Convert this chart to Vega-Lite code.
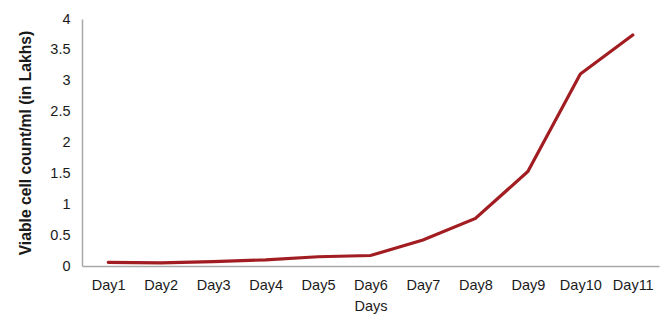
{
  "$schema": "https://vega.github.io/schema/vega-lite/v6.json",
  "width": 577,
  "height": 247,
  "autosize": {"type": "none"},
  "padding": {"left": 82, "top": 19, "right": 8, "bottom": 62},
  "background": "#ffffff",
  "config": {
    "view": {"stroke": null},
    "font": "Liberation Sans",
    "axis": {
      "grid": false,
      "ticks": false,
      "domainColor": "#a8a8a8",
      "domainWidth": 1.5,
      "labelColor": "#1a1a1a",
      "labelFont": "Liberation Sans",
      "titleFont": "Liberation Sans",
      "titleColor": "#1a1a1a"
    }
  },
  "data": {
    "values": [
      {"day": "Day1", "count": 0.06},
      {"day": "Day2", "count": 0.05},
      {"day": "Day3", "count": 0.07},
      {"day": "Day4", "count": 0.1},
      {"day": "Day5", "count": 0.15},
      {"day": "Day6", "count": 0.17},
      {"day": "Day7", "count": 0.42},
      {"day": "Day8", "count": 0.77},
      {"day": "Day9", "count": 1.53},
      {"day": "Day10", "count": 3.11},
      {"day": "Day11", "count": 3.74}
    ]
  },
  "mark": {"type": "line", "color": "#a11d21", "strokeWidth": 3.2, "strokeCap": "round"},
  "encoding": {
    "x": {
      "field": "day",
      "type": "ordinal",
      "sort": null,
      "scale": {"type": "point", "padding": 0.5},
      "axis": {
        "title": "Days",
        "labelAngle": 0,
        "labelFontSize": 14.5,
        "labelPadding": 12,
        "titleFontSize": 14.5,
        "titleFontWeight": "normal",
        "titlePadding": 8
      }
    },
    "y": {
      "field": "count",
      "type": "quantitative",
      "scale": {"domain": [0, 4], "nice": false},
      "axis": {
        "title": "Viable cell count/ml (in Lakhs)",
        "values": [0, 0.5, 1, 1.5, 2, 2.5, 3, 3.5, 4],
        "format": "~g",
        "labelFontSize": 14.5,
        "labelPadding": 12,
        "titleFontSize": 15.7,
        "titleFontWeight": "bold",
        "titlePadding": 16
      }
    }
  }
}
